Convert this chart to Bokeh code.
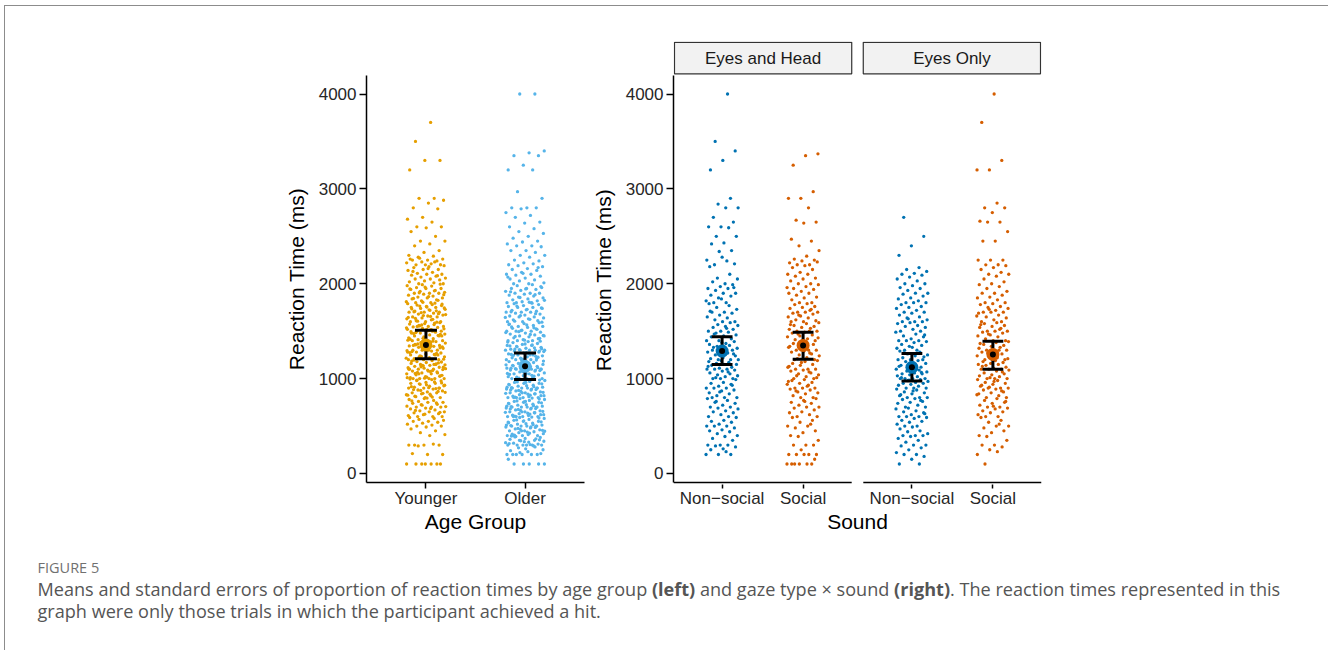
from bokeh.plotting import figure
from bokeh.models import Range1d, FixedTicker, Div
from bokeh.layouts import row, column
from bokeh.core.properties import value
from bokeh.embed import file_html
from bokeh.resources import INLINE

# ---------------- data ----------------
age_groups = ["Younger", "Older"]
age_mean = [1355, 1130]
age_low = [1210, 990]
age_high = [1510, 1270]

gaze_types = ["Eyes and Head", "Eyes Only"]
sounds = ["Non\u2212social", "Social"]
# order: (Eyes and Head, Non-social), (Eyes and Head, Social), (Eyes Only, Non-social), (Eyes Only, Social)
gs_mean = [1290, 1350, 1120, 1255]
gs_low = [1150, 1205, 975, 1100]
gs_high = [1440, 1490, 1265, 1395]

younger_rt = [
    3700, 3500, 3300, 3300, 3200, 2900, 2900, 2880, 2850, 2800, 2790, 2700, 2680, 2650, 2600, 2600,
    2590, 2550, 2500, 2450, 2450, 2420, 2400, 2350, 2330, 2300,
    2290, 2280, 2260, 2250, 2250, 2240, 2230, 2220, 2210, 2200, 2200, 2200, 2260, 2230, 2270,
    2190, 2180, 2170, 2150, 2150, 2140, 2120, 2110, 2100, 2100, 2090, 2080, 2070, 2060, 2050, 2050,
    2040, 2030, 2020, 2010, 2000, 2000, 2160, 2130, 2085,
    1990, 1980, 1975, 1960, 1950, 1950, 1940, 1930, 1920, 1910, 1900, 1900, 1900, 1890, 1880, 1870,
    1860, 1850, 1850, 1840, 1830, 1820, 1810, 1800, 1800, 1995, 1965, 1945, 1925, 1905, 1885, 1865,
    1845, 1825, 1805,
    1790, 1780, 1775, 1770, 1760, 1750, 1750, 1740, 1730, 1720, 1710, 1700, 1700, 1700, 1690, 1680,
    1670, 1660, 1650, 1650, 1640, 1630, 1620, 1610, 1600, 1600, 1600, 1795, 1765, 1745, 1725, 1705,
    1685, 1665, 1645, 1625, 1605, 1785, 1755, 1735, 1715, 1695, 1675, 1655, 1635,
    1590, 1580, 1575, 1570, 1560, 1550, 1550, 1545, 1540, 1530, 1520, 1510, 1500, 1500, 1500, 1495,
    1490, 1480, 1470, 1460, 1450, 1450, 1440, 1430, 1420, 1410, 1400, 1400, 1400, 1595, 1565, 1535,
    1515, 1485, 1465, 1435, 1415, 1585, 1555, 1525, 1505, 1475, 1455, 1425, 1405, 1500, 1550, 1450,
    1520, 1480,
    1390, 1380, 1375, 1370, 1360, 1350, 1350, 1345, 1340, 1330, 1320, 1310, 1300, 1300, 1300, 1295,
    1290, 1280, 1270, 1260, 1250, 1250, 1240, 1230, 1220, 1210, 1200, 1200, 1200, 1395, 1365, 1335,
    1315, 1285, 1265, 1235, 1215, 1385, 1355, 1325, 1305, 1275, 1255, 1225, 1205, 1300, 1350, 1250,
    1320, 1280,
    1190, 1180, 1175, 1170, 1160, 1150, 1150, 1145, 1140, 1130, 1120, 1110, 1100, 1100, 1100, 1095,
    1090, 1080, 1070, 1060, 1050, 1050, 1040, 1030, 1020, 1010, 1000, 1000, 1000, 1000, 1195, 1165,
    1135, 1115, 1085, 1065, 1035, 1015, 1185, 1155, 1125, 1105, 1075, 1055, 1025, 1005, 1100, 1150,
    1050, 1120, 1080, 1000, 1060, 1140, 1010,
    990, 980, 975, 960, 950, 950, 940, 930, 920, 910, 900, 900, 900, 890, 880, 870, 860, 850, 850,
    840, 830, 820, 810, 800, 800, 995, 965, 945, 925, 905, 885, 865, 845, 825, 805, 985, 955, 935,
    915, 895, 875, 855, 835, 815, 900,
    790, 780, 770, 760, 750, 750, 740, 730, 720, 710, 700, 700, 700, 690, 680, 670, 660, 650, 650,
    640, 630, 620, 610, 600, 600, 600, 795, 765, 745, 725, 705, 685, 665, 645, 625,
    590, 580, 570, 560, 550, 550, 540, 530, 520, 510, 500, 500,
    490, 470, 450, 430, 410, 400,
    300, 300, 300, 300, 310, 290, 200, 200, 210,
    100, 100, 100, 100, 100, 100, 100,
]

older_rt = [
    4000, 4000, 3400, 3380, 3350, 3350, 3250, 3200, 3200, 2970, 2900, 2800, 2800, 2800, 2790, 2750,
    2720, 2700, 2650,
    2640, 2600, 2580, 2550, 2530, 2500, 2480, 2450, 2440, 2420, 2400, 2400,
    2390, 2350, 2350, 2330, 2300, 2300, 2280, 2250, 2240, 2220, 2200, 2210,
    2190, 2180, 2160, 2150, 2140, 2120, 2100, 2100, 2090, 2080, 2060, 2050, 2040, 2030, 2010, 2000,
    2000, 2170, 2110, 2070,
    1990, 1980, 1960, 1950, 1950, 1940, 1930, 1920, 1900, 1900, 1900, 1890, 1880, 1870, 1860, 1850,
    1840, 1830, 1820, 1810, 1800, 1800, 1800, 1970, 1945, 1915, 1885, 1855, 1825, 1805,
    1790, 1780, 1770, 1760, 1750, 1750, 1740, 1730, 1720, 1710, 1700, 1700, 1700, 1690, 1680, 1670,
    1660, 1650, 1650, 1640, 1630, 1620, 1610, 1600, 1600, 1795, 1765, 1745, 1725, 1705, 1685, 1665,
    1645, 1625, 1605,
    1590, 1580, 1570, 1560, 1550, 1550, 1540, 1530, 1520, 1510, 1500, 1500, 1500, 1490, 1480, 1470,
    1460, 1450, 1450, 1440, 1430, 1420, 1410, 1400, 1400, 1400, 1595, 1565, 1545, 1525, 1505, 1485,
    1465, 1445, 1425, 1405, 1575, 1535, 1495, 1455,
    1390, 1380, 1370, 1360, 1350, 1350, 1340, 1330, 1320, 1310, 1300, 1300, 1300, 1300, 1290, 1280,
    1270, 1260, 1250, 1250, 1240, 1230, 1220, 1210, 1200, 1200, 1200, 1200, 1395, 1365, 1345, 1325,
    1305, 1285, 1265, 1245, 1225, 1205, 1385, 1355, 1335, 1315, 1275, 1255, 1235, 1215, 1300, 1250,
    1310, 1290,
    1190, 1180, 1170, 1160, 1150, 1150, 1140, 1130, 1120, 1110, 1100, 1100, 1100, 1100, 1090, 1080,
    1070, 1060, 1050, 1050, 1040, 1030, 1020, 1010, 1000, 1000, 1000, 1000, 1195, 1165, 1145, 1125,
    1105, 1085, 1065, 1045, 1025, 1005, 1185, 1155, 1135, 1115, 1075, 1055, 1035, 1015, 1100, 1050,
    1110, 1090,
    990, 980, 970, 960, 950, 950, 940, 930, 920, 910, 900, 900, 900, 900, 890, 880, 870, 860, 850,
    850, 840, 830, 820, 810, 800, 800, 800, 800, 995, 965, 945, 925, 905, 885, 865, 845, 825, 805,
    985, 955, 935, 915, 875, 855, 835, 815, 900, 850, 910, 890, 800, 820, 960, 880, 840,
    790, 780, 770, 760, 750, 750, 740, 730, 720, 710, 700, 700, 700, 700, 690, 680, 670, 660, 650,
    650, 640, 630, 620, 610, 600, 600, 600, 600, 795, 765, 745, 725, 705, 685, 665, 645, 625, 605,
    785, 755, 735, 715, 675, 655, 635, 615, 700, 650, 710, 690, 600, 620, 760, 680, 640,
    590, 580, 570, 560, 550, 550, 540, 530, 520, 510, 500, 500, 500, 500, 490, 480, 470, 460, 450,
    450, 440, 430, 420, 410, 400, 400, 400, 400, 595, 565, 545, 525, 505, 485, 465, 445, 425, 405,
    585, 555, 535, 515, 475, 455, 435, 415, 500, 450, 510, 490,
    390, 380, 370, 360, 350, 350, 340, 330, 320, 310, 300, 300, 300, 300, 300, 300, 395, 365, 345,
    325, 305, 385, 355, 335, 315,
    290, 270, 250, 230, 200, 200, 200, 200, 200, 200, 210, 260, 240, 280, 220,
    100, 100, 100, 100, 100, 150,
]

eh_nonsocial_rt = [
    4000, 3500, 3400, 3300, 3200, 2900, 2840, 2800, 2800, 2700, 2650, 2600, 2600, 2590, 2500, 2500,
    2430, 2420, 2350, 2340,
    2250, 2240, 2200, 2210, 2280,
    2180, 2100, 2060, 2050, 2000, 2020,
    1990, 1970, 1950, 1950, 1930, 1900, 1900, 1880, 1870, 1850, 1820, 1800, 1800, 1960, 1840,
    1790, 1770, 1750, 1730, 1700, 1700, 1690, 1670, 1650, 1640, 1620, 1600, 1600, 1710,
    1590, 1570, 1560, 1550, 1540, 1520, 1500, 1500, 1490, 1480, 1460, 1450, 1440, 1420, 1400, 1400,
    1530, 1470,
    1390, 1380, 1360, 1350, 1340, 1320, 1300, 1300, 1300, 1290, 1280, 1270, 1250, 1240, 1220, 1210,
    1200, 1200, 1200, 1370, 1330, 1260,
    1190, 1180, 1170, 1160, 1150, 1150, 1140, 1120, 1110, 1100, 1100, 1100, 1090, 1080, 1060, 1050,
    1040, 1030, 1020, 1000, 1000, 1000, 1130, 1070, 1010,
    990, 960, 950, 940, 920, 900, 900, 900, 880, 870, 850, 840, 820, 800, 800, 800, 930, 860,
    790, 770, 750, 740, 720, 700, 700, 690, 680, 660, 650, 640, 620, 600, 600, 760,
    590, 560, 550, 540, 520, 500, 500, 500, 480, 460, 450, 440, 420, 400,
    390, 370, 350, 300, 300, 300,
    290, 280, 260, 250, 200, 200, 200, 230,
]

eh_social_rt = [
    3370, 3350, 3250, 2970, 2900, 2900, 2800, 2670, 2650, 2640, 2470, 2450, 2400, 2350,
    2290, 2260, 2250, 2240, 2220, 2200, 2200, 2230,
    2190, 2170, 2150, 2120, 2100, 2100, 2080, 2060, 2050, 2030, 2000, 2000,
    1990, 1970, 1950, 1940, 1920, 1900, 1900, 1880, 1860, 1850, 1830, 1800, 1800, 1960,
    1790, 1780, 1760, 1750, 1740, 1720, 1700, 1700, 1700, 1690, 1680, 1660, 1650, 1640, 1620, 1610,
    1600, 1600, 1730, 1670,
    1590, 1580, 1560, 1550, 1540, 1520, 1500, 1500, 1500, 1490, 1480, 1460, 1450, 1440, 1420, 1410,
    1400, 1400, 1570, 1530, 1470, 1430,
    1390, 1370, 1360, 1350, 1330, 1300, 1300, 1300, 1290, 1280, 1260, 1250, 1240, 1220, 1200, 1200,
    1380, 1340, 1270, 1210,
    1190, 1180, 1160, 1150, 1140, 1120, 1100, 1100, 1100, 1090, 1080, 1060, 1050, 1040, 1020, 1000,
    1000, 1170, 1130, 1070, 1030, 1010,
    990, 980, 960, 950, 940, 920, 900, 900, 900, 890, 880, 860, 850, 840, 820, 800, 800, 970, 930, 870,
    790, 770, 750, 740, 720, 700, 700, 690, 670, 650, 640, 620, 600, 600, 760,
    590, 560, 540, 500, 500, 480, 450, 430, 400, 520,
    390, 350, 300, 300, 300, 250, 200, 200,
    200, 200, 200, 100, 100, 100, 100, 100, 100, 150,
]

eo_nonsocial_rt = [
    2700, 2500, 2400, 2300, 2170, 2150, 2130, 2110, 2100,
    2090, 2070, 2050, 2030, 2000, 2000, 1980, 1960, 1950, 1930, 1900, 1900,
    1890, 1870, 1850, 1840, 1820, 1800, 1800, 1800, 1780, 1760, 1750, 1740, 1720, 1700, 1700,
    1690, 1670, 1650, 1640, 1620, 1600, 1600, 1600, 1590, 1580, 1560, 1550, 1540, 1520, 1500, 1500,
    1630,
    1490, 1470, 1450, 1440, 1420, 1400, 1400, 1400, 1390, 1380, 1360, 1350, 1340, 1320, 1300, 1300,
    1460, 1330,
    1290, 1280, 1260, 1250, 1240, 1220, 1200, 1200, 1200, 1190, 1180, 1160, 1150, 1140, 1120, 1100,
    1100, 1100, 1270, 1230, 1170, 1130,
    1090, 1080, 1070, 1060, 1050, 1050, 1040, 1030, 1020, 1000, 1000, 1000, 1000, 990, 980, 970,
    960, 950, 950, 940, 930, 920, 900, 900, 900, 1010, 1065, 985,
    890, 880, 860, 850, 840, 820, 800, 800, 800, 790, 780, 760, 750, 740, 720, 700, 700, 870, 830, 770,
    690, 680, 660, 650, 640, 620, 600, 600, 600, 590, 580, 560, 550, 540, 520, 500, 500, 630,
    490, 470, 450, 440, 420, 400, 400, 400, 390, 370, 350, 330, 300, 300,
    290, 270, 250, 220, 200, 200, 180, 150, 100, 100,
]

eo_social_rt = [
    4000, 3700, 3300, 3200, 3200, 2850, 2800, 2800, 2750, 2660, 2650, 2650, 2550, 2450, 2450, 2250,
    2250, 2250, 2200, 2200,
    2190, 2170, 2150, 2120, 2100, 2100, 2080, 2050, 2020, 2000,
    1990, 1970, 1950, 1920, 1900, 1900, 1880, 1860, 1850, 1830, 1800, 1800,
    1790, 1780, 1760, 1750, 1740, 1720, 1700, 1700, 1700, 1690, 1670, 1650, 1640, 1620, 1600, 1600,
    1730, 1660,
    1590, 1580, 1560, 1550, 1540, 1520, 1500, 1500, 1500, 1490, 1480, 1460, 1450, 1440, 1420, 1400,
    1400, 1570, 1530, 1470,
    1390, 1380, 1360, 1350, 1340, 1320, 1300, 1300, 1300, 1290, 1280, 1260, 1250, 1240, 1220, 1200,
    1200, 1200, 1370, 1330, 1270, 1210,
    1190, 1180, 1170, 1160, 1150, 1150, 1140, 1120, 1110, 1100, 1100, 1100, 1090, 1080, 1060, 1050,
    1040, 1030, 1020, 1000, 1000, 1000, 1130, 1070, 1010,
    990, 980, 960, 950, 940, 920, 900, 900, 900, 890, 880, 860, 850, 840, 820, 800, 800, 970, 930,
    870, 910, 830,
    790, 770, 750, 740, 720, 700, 700, 690, 680, 660, 650, 640, 620, 600, 600, 760, 710,
    590, 560, 540, 500, 500, 480, 450, 430, 400, 520,
    390, 350, 300, 300, 280, 250, 200, 230,
    100,
]

age_colors = ["#E69F00", "#56B4E9"]
sound_colors = ["#0072B2", "#D55E00"]

# ---------------- layout constants ----------------
FONT = "Liberation Sans"
Y0, Y1 = -95, 4195
FRAME_H = 407
LEFT_FRAME_W = 218
RIGHT_FRAME_W = 371
PANEL_GAP_PX = 11.7
JIT = 0.2


def jitter_offsets(n, phase):
    g = 0.6180339887498949
    return [JIT * (2.0 * (((i + 1) * g + phase) % 1.0) - 1.0) for i in range(n)]


def style(p):
    p.outline_line_color = None
    p.xgrid.visible = False
    p.ygrid.visible = False
    p.background_fill_color = "white"
    p.border_fill_color = "white"
    for ax in list(p.xaxis) + list(p.yaxis):
        ax.axis_line_color = "black"
        ax.axis_line_width = 1.5
        ax.major_tick_line_color = "black"
        ax.major_tick_line_width = 1.5
        ax.major_tick_in = 0
        ax.major_tick_out = 7
        ax.minor_tick_line_color = None
        ax.major_label_text_font = FONT
        ax.major_label_text_font_size = "17px"
        ax.major_label_text_color = "#262626"
        ax.major_label_standoff = 3
        ax.axis_label_text_font = FONT
        ax.axis_label_text_font_size = "21px"
        ax.axis_label_text_font_style = "normal"
        ax.axis_label_text_color = "black"
    for ax in p.xaxis:
        ax.major_tick_out = 6
        ax.major_label_standoff = 0
        ax.axis_label_standoff = -1


def draw_group(p, xc, vals, color, mean, lo, hi, cap_hw, phase):
    xs = [xc + d for d in jitter_offsets(len(vals), phase)]
    p.scatter(xs, vals, size=3.3, fill_color=color, line_color=None)
    p.segment([xc], [lo], [xc], [hi], line_color="black", line_width=3)
    p.segment([xc - cap_hw, xc - cap_hw], [lo, hi], [xc + cap_hw, xc + cap_hw], [lo, hi],
              line_color="black", line_width=3)
    p.scatter([xc], [mean], size=13, fill_color=color, line_color=None)
    p.scatter([xc], [mean], size=6, fill_color="black", line_color=None)


# ---------------- left panel: age group ----------------
pl = figure(width=583, height=539, x_range=Range1d(0.4, 2.6), y_range=Range1d(Y0, Y1),
            output_backend="svg", toolbar_location=None,
            min_border_left=361, min_border_right=4, min_border_top=69, min_border_bottom=63)
style(pl)
pl.xaxis.ticker = FixedTicker(ticks=[1, 2])
pl.xaxis.major_label_overrides = {1: age_groups[0], 2: age_groups[1]}
pl.yaxis.ticker = FixedTicker(ticks=[0, 1000, 2000, 3000, 4000])
pl.xaxis.axis_label = "Age Group"
pl.yaxis.axis_label = "Reaction Time (ms)"
pl.yaxis.axis_label_standoff = 8
left_upp = 2.2 / LEFT_FRAME_W
for i, (vals, col) in enumerate(zip([younger_rt, older_rt], age_colors)):
    draw_group(pl, i + 1, vals, col, age_mean[i], age_low[i], age_high[i], 11 * left_upp, 0.13 * i)

# ---------------- right panels: gaze type x sound ----------------
units_total = 4.4 / (1 - PANEL_GAP_PX / RIGHT_FRAME_W)
gap_u = units_total - 4.4
offs = [0.0, 2.2 + gap_u]
xr = Range1d(0.4, 0.4 + units_total)
right_upp = units_total / RIGHT_FRAME_W
ypp = (Y1 - Y0) / FRAME_H

pr = figure(width=737, height=470, x_range=xr, y_range=Range1d(Y0 - 2 * ypp, Y1),
            output_backend="svg", toolbar_location=None,
            min_border_left=82, min_border_right=284, min_border_top=0, min_border_bottom=61)
style(pr)
pr.yaxis.bounds = (Y0, Y1)
pr.yaxis.ticker = FixedTicker(ticks=[0, 1000, 2000, 3000, 4000])
pr.yaxis.axis_label = "Reaction Time (ms)"
pr.yaxis.axis_label_standoff = 8
tick_pos = [o + k + 1 for o in offs for k in range(2)]
pr.xaxis.ticker = FixedTicker(ticks=tick_pos)
pr.xaxis.major_label_overrides = {t: sounds[j % 2] for j, t in enumerate(tick_pos)}
pr.xaxis.axis_line_color = None
pr.xaxis.major_tick_out = 4
pr.xaxis.axis_label = "Sound"
pr.segment([o + 0.4 for o in offs], [Y0, Y0], [o + 2.6 for o in offs], [Y0, Y0],
           line_color="black", line_width=1.5)

right_vals = [eh_nonsocial_rt, eh_social_rt, eo_nonsocial_rt, eo_social_rt]
for j, vals in enumerate(right_vals):
    xc = tick_pos[j]
    draw_group(pr, xc, vals, sound_colors[j % 2], gs_mean[j], gs_low[j], gs_high[j],
               10.5 * right_upp, 0.29 * j + 0.05)

# strip labels
strip = figure(width=737, height=69,
               x_range=Range1d(xr.start - right_upp, xr.end + right_upp), y_range=Range1d(0, 1),
               output_backend="svg", toolbar_location=None,
               min_border_left=81, min_border_right=283, min_border_top=35, min_border_bottom=0)
strip.axis.visible = False
strip.xgrid.visible = False
strip.ygrid.visible = False
strip.outline_line_color = None
strip.quad(left=[o + 0.4 for o in offs], right=[o + 2.6 for o in offs], bottom=0.05, top=0.975,
           fill_color="#F2F2F2", line_color="#333333", line_width=1.2)
strip.text(x=[o + 1.5 for o in offs], y=[0.5, 0.5], text=gaze_types, text_align="center",
           text_baseline="middle", text_font=value(FONT), text_font_size="17px", text_color="#1a1a1a")

caption_html = (
    '<div style="font-family:\'Open Sans\',sans-serif; padding:9px 0 0 28px;">'
    '<div style="font-size:14.5px; line-height:18px; color:#707070;">FIGURE 5</div>'
    '<div style="font-size:18.1px; line-height:22px; color:#555555; margin-top:1px; white-space:nowrap;">'
    'Means and standard errors of proportion of reaction times by age group <b>(left)</b> and gaze type '
    '\u00d7 sound <b>(right)</b>. The reaction times represented in this<br>'
    'graph were only those trials in which the participant achieved a hit.</div></div>'
)
caption = Div(text=caption_html, width=1320, height=104)

root = column(
    row(pl, column(strip, pr)),
    caption,
    styles={
        "border-left": "1.5px solid #8c8c8c",
        "border-top": "1.5px solid #8c8c8c",
        "border-right": "1.5px solid #8c8c8c",
        "margin-left": "3.5px",
        "margin-top": "4.5px",
        "margin-right": "2px",
    },
)

open("out.html", "w").write(file_html(root, INLINE))
